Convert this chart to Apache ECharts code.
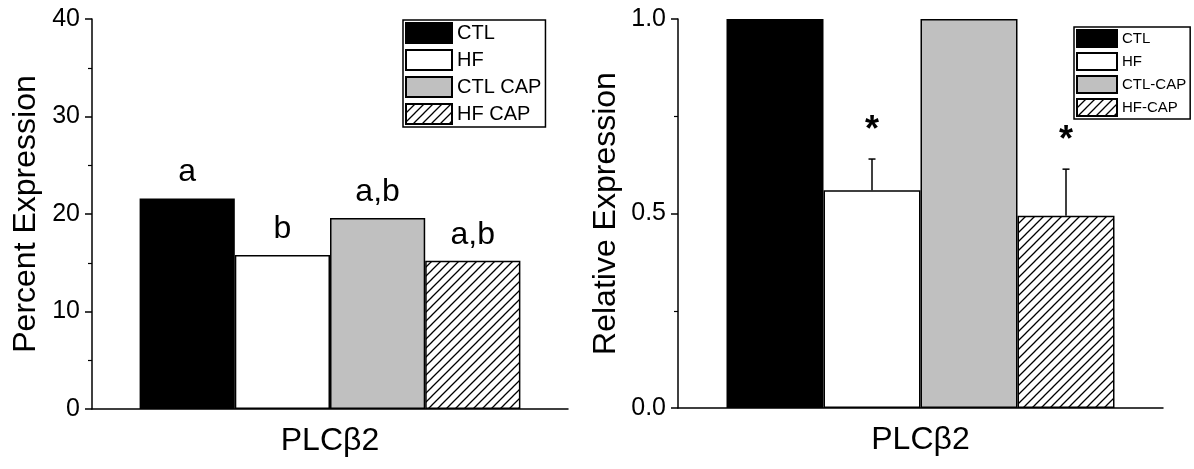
<!DOCTYPE html>
<html>
<head>
<meta charset="utf-8">
<script src="https://cdn.jsdelivr.net/npm/echarts@6/dist/echarts.min.js"></script>
<style>
  html, body { margin: 0; padding: 0; background: #fff; }
  #chart { width: 1194px; height: 469px; }
</style>
</head>
<body>
<div id="chart"></div>
<script>
// data
var categories = ['PLCβ2'];
var leftNames = ['CTL', 'HF', 'CTL CAP', 'HF CAP'];
var leftValues = [21.6, 15.8, 19.6, 15.2];
var leftLetters = ['a', 'b', 'a,b', 'a,b'];
var rightNames = ['CTL', 'HF', 'CTL-CAP', 'HF-CAP'];
var rightValues = [1.0, 0.56, 1.0, 0.494];
var rightErrors = [0, 0.08, 0, 0.12];
var rightStars = ['', '*', '', '*'];

var FONT = 'Liberation Sans, Arial, sans-serif';

// hatch fill  ////
function makeHatch() {
    var c = document.createElement('canvas');
    c.width = 9; c.height = 9;
    var g = c.getContext('2d');
    g.fillStyle = '#fff';
    g.fillRect(0, 0, 9, 9);
    g.strokeStyle = '#000';
    g.lineWidth = 1.3;
    g.beginPath();
    g.moveTo(-1, 10); g.lineTo(10, -1);
    g.moveTo(-1, 1); g.lineTo(1, -1);
    g.moveTo(8, 10); g.lineTo(10, 8);
    g.stroke();
    return c;
}
var hatch = { image: makeHatch(), repeat: 'repeat' };
var fills = ['#000', '#fff', '#c0c0c0', hatch];

var chart = echarts.init(document.getElementById('chart'));

function yAxisBase(idx, min, max, interval, name, gap, fmt) {
    return {
        type: 'value', gridIndex: idx, min: min, max: max, interval: interval,
        name: name, nameLocation: 'middle', nameGap: gap,
        nameTextStyle: { fontFamily: FONT, fontSize: 32, color: '#000' },
        axisLine: { show: true, lineStyle: { color: '#000', width: 1.5 } },
        axisTick: { show: true, length: 7, lineStyle: { color: '#000', width: 1.5 } },
        minorTick: { show: true, splitNumber: 2, length: 4, lineStyle: { color: '#000', width: 1.2 } },
        axisLabel: { fontFamily: FONT, fontSize: 25, color: '#000', margin: 12, formatter: fmt },
        splitLine: { show: false }
    };
}

function xAxisBase(idx) {
    return {
        type: 'category', gridIndex: idx, data: categories,
        axisLine: { lineStyle: { color: '#000', width: 1.5 } },
        axisTick: { alignWithLabel: true, length: 7, lineStyle: { color: '#000', width: 1.5 } },
        axisLabel: { fontFamily: FONT, fontSize: 32, color: '#000', margin: 16 }
    };
}

function legendBase(names, left, top, w, h, gap, fs) {
    return {
        data: names, orient: 'vertical', left: left, top: top,
        itemWidth: w, itemHeight: h, itemGap: gap, icon: 'rect',
        borderColor: '#000', borderWidth: 1.5, padding: [2, 4, 2, 2],
        selectedMode: false,
        textStyle: { fontFamily: FONT, fontSize: fs, color: '#000' }
    };
}

var series = [];
leftNames.forEach(function (n, i) {
    series.push({
        name: n, type: 'bar', xAxisIndex: 0, yAxisIndex: 0,
        barGap: '0%', barCategoryGap: '20%',
        data: [leftValues[i]],
        itemStyle: { color: fills[i], borderColor: '#000', borderWidth: 1.5 },
        label: {
            show: true, position: 'top', distance: 10,
            formatter: leftLetters[i],
            fontFamily: FONT, fontSize: 32, color: '#000'
        }
    });
});
rightNames.forEach(function (n, i) {
    series.push({
        name: n, type: 'bar', xAxisIndex: 1, yAxisIndex: 1,
        barGap: '0%', barCategoryGap: '20%',
        data: [rightValues[i]],
        itemStyle: { color: fills[i], borderColor: '#000', borderWidth: 1.5 }
    });
});

// error bars + stars, right panel
series.push({
    type: 'custom', xAxisIndex: 1, yAxisIndex: 1, z: 5,
    data: rightValues.map(function (v, i) { return [0, v, rightErrors[i]]; }),
    renderItem: function (params, api) {
        var k = params.dataIndex;
        var v = api.value(1), e = api.value(2);
        if (!e) return null;
        var base = api.coord([api.value(0), v]);
        var top = api.coord([api.value(0), v + e]);
        var bw = api.size([1, 0])[0] * 0.8 / 4;
        var x = base[0] + (k - 1.5) * bw;
        var st = { stroke: '#000', lineWidth: 1.5 };
        return {
            type: 'group',
            children: [
                { type: 'line', shape: { x1: x, y1: base[1], x2: x, y2: top[1] }, style: st },
                { type: 'line', shape: { x1: x - 3.5, y1: top[1], x2: x + 3.5, y2: top[1] }, style: st },
                { type: 'text', x: x, y: top[1] - 28, style: {
                    text: rightStars[k], fontFamily: FONT, fontSize: 36, fontWeight: 'bold',
                    fill: '#000', align: 'center', verticalAlign: 'middle' } }
            ]
        };
    }
});

chart.setOption({
    animation: false,
    grid: [
        { left: 92, top: 19, width: 476, height: 390 },
        { left: 678, top: 19, width: 485, height: 389 }
    ],
    xAxis: [xAxisBase(0), xAxisBase(1)],
    yAxis: [
        yAxisBase(0, 0, 40, 10, 'Percent Expression', 50, null),
        yAxisBase(1, 0, 1, 0.5, 'Relative Expression', 56, function (v) { return v.toFixed(1); })
    ],
    legend: [
        legendBase(leftNames, 403, 20, 46, 20, 5, 20),
        legendBase(rightNames, 1074, 27, 40, 17, 4, 15)
    ],
    series: series
});
</script>
</body>
</html>
